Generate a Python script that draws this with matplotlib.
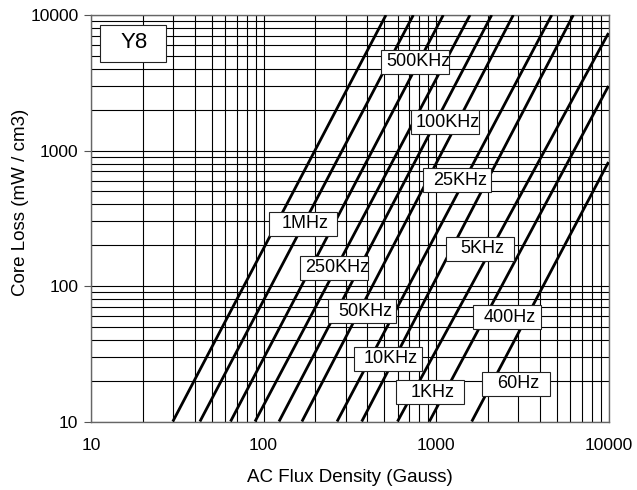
import matplotlib
matplotlib.use('Agg')
import matplotlib.pyplot as plt
from matplotlib.patches import Rectangle
from matplotlib.ticker import NullFormatter, LogLocator

plt.rcParams['font.family'] = ['Liberation Sans', 'DejaVu Sans']

# ---------------- data ----------------
freq_labels = ['60Hz', '400Hz', '1KHz', '5KHz', '10KHz', '25KHz',
               '50KHz', '100KHz', '250KHz', '500KHz', '1MHz']
# each curve is a straight line in log-log: start point (B, P) and end point (B, P)
b_start = [1611, 915, 598, 371, 267, 167, 123, 89.3, 64.4, 42.8, 29.8]
p_start = [10, 10, 10, 10, 10, 10, 10, 10, 10, 10, 10]
b_end = [10000, 10000, 10000, 6251, 4686, 2806, 2103, 1574, 1102, 739, 513]
p_end = [822, 2993, 7360, 10000, 10000, 10000, 10000, 10000, 10000, 10000, 10000]

x_ticks = [10, 100, 1000, 10000]
x_tick_labels = ['10', '100', '1000', '10000']
y_ticks = [10, 100, 1000, 10000]
y_tick_labels = ['10', '100', '1000', '10000']

material = 'Y8'
x_title = 'AC Flux Density (Gauss)'
y_title = 'Core Loss (mW / cm3)'

# ---------------- layout (pixels in the 637x490 canvas) ----------------
W, H = 637, 490
AX_L, AX_R, AX_T, AX_B = 91.0, 608.5, 15.0, 421.5
# label box centres (px)
label_centres = {
    '1MHz': (302.5, 224.0),
    '250KHz': (333.8, 268.0),
    '50KHz': (362.0, 311.0),
    '10KHz': (388.0, 358.7),
    '1KHz': (429.7, 392.3),
    '500KHz': (415.0, 61.7),
    '100KHz': (444.5, 122.5),
    '25KHz': (457.0, 180.5),
    '5KHz': (479.5, 248.7),
    '400Hz': (506.7, 317.0),
    '60Hz': (515.5, 383.5),
}
BOX_W, BOX_H = 68.0, 24.0

aw, ah = AX_R - AX_L, AX_B - AX_T


def fx(px):
    return (px - AX_L) / aw


def fy(py):
    return (AX_B - py) / ah


fig = plt.figure(figsize=(W / 100, H / 100), dpi=100)
ax = fig.add_axes([AX_L / W, (H - AX_B) / H, aw / W, ah / H])
ax.set_xscale('log')
ax.set_yscale('log')
ax.set_xlim(10, 10000)
ax.set_ylim(10, 10000)

ax.xaxis.set_minor_locator(LogLocator(base=10, subs=range(2, 10)))
ax.yaxis.set_minor_locator(LogLocator(base=10, subs=range(2, 10)))
ax.set_xticks(x_ticks, labels=x_tick_labels)
ax.set_yticks(y_ticks, labels=y_tick_labels)
ax.xaxis.set_minor_formatter(NullFormatter())
ax.yaxis.set_minor_formatter(NullFormatter())

ax.grid(which='both', color='black', linewidth=0.8)
ax.set_axisbelow(True)

ax.tick_params(axis='x', which='both', length=0, pad=12, labelsize=12.5)
ax.tick_params(axis='y', which='major', length=5, width=0.8, pad=4,
               labelsize=12.5, color='#555555')
ax.tick_params(axis='y', which='minor', length=0)

for s in ax.spines.values():
    s.set_color('#666666')
    s.set_linewidth(1.0)

for i in range(len(freq_labels)):
    ax.plot([b_start[i], b_end[i]], [p_start[i], p_end[i]],
            color='black', linewidth=2.0, solid_capstyle='butt', zorder=3)

for name in freq_labels:
    cx, cy = label_centres[name]
    ax.add_patch(Rectangle((fx(cx - BOX_W / 2), fy(cy + BOX_H / 2)),
                           BOX_W / aw, BOX_H / ah, transform=ax.transAxes,
                           facecolor='white', edgecolor='#222222',
                           linewidth=0.8, zorder=4))
    ax.text(fx(cx + 3), fy(cy), name, transform=ax.transAxes,
            ha='center', va='center', fontsize=13, zorder=5)

# material box
ax.add_patch(Rectangle((fx(100), fy(61.7)), 65.7 / aw, 36.7 / ah,
                       transform=ax.transAxes, facecolor='white',
                       edgecolor='#222222', linewidth=0.8, zorder=4))
ax.text(fx(134.0), fy(43.0), material, transform=ax.transAxes,
        ha='center', va='center', fontsize=16, zorder=5)

ax.set_xlabel(x_title, fontsize=13.5)
ax.set_ylabel(y_title, fontsize=13.5)
ax.xaxis.set_label_coords(0.5, fy(469))
ax.yaxis.set_label_coords(fx(29), fy(202))

fig.savefig('out.png', dpi=100)
